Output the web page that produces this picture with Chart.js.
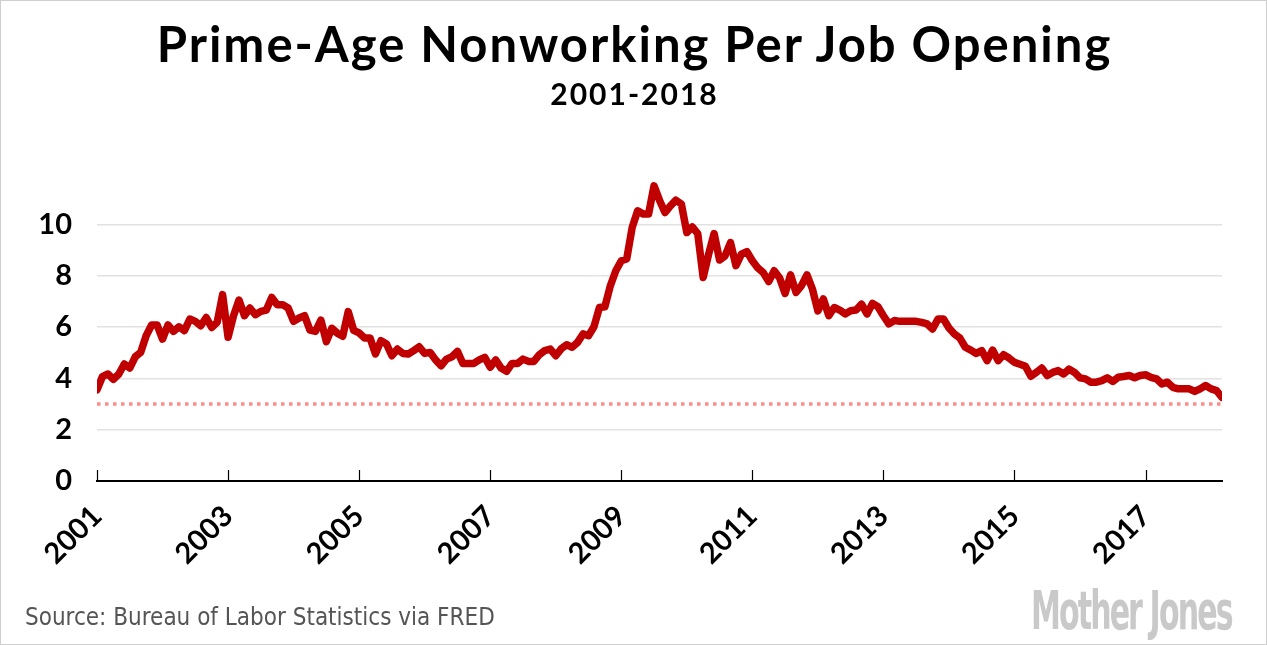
<!DOCTYPE html>
<html>
<head>
<meta charset="utf-8">
<script src="https://cdn.jsdelivr.net/npm/chart.js@4.4.0/dist/chart.umd.min.js"></script>
<style>
  html, body { margin: 0; padding: 0; background: #fff; }
  #wrap { position: relative; width: 1267px; height: 645px; box-sizing: border-box; border: 1px solid #cfcfcf; overflow: hidden; }
  #chart { position: absolute; left: -1px; top: -1px; }
  .txt { position: absolute; white-space: nowrap; }
  #title { left: 0; width: 1267px; top: 13px; text-align: center; font: 700 49px Lato, sans-serif; letter-spacing: 2px; color: #000; }
  #sub { left: 0; width: 1267px; top: 74px; text-align: center; font: 700 30px Lato, sans-serif; letter-spacing: 2px; color: #000; }
  #source { left: 24px; top: 602px; font: 24px "DejaVu Sans Condensed", "DejaVu Sans", sans-serif; color: #555; }
  #logo { right: 34px; top: 579px; font: 700 53px "DejaVu Sans Condensed", "DejaVu Sans", sans-serif; color: #c9c9c9; letter-spacing: -3px; transform: scaleX(0.63); transform-origin: right top; }
</style>
</head>
<body>
<div id="wrap">
  <canvas id="chart" width="1267" height="645"></canvas>
  <div class="txt" id="title">Prime-Age Nonworking Per Job Opening</div>
  <div class="txt" id="sub">2001-2018</div>
  <div class="txt" id="source">Source: Bureau of Labor Statistics via FRED</div>
  <div class="txt" id="logo">Mother Jones</div>
</div>
<script>
// ---- data (monthly, Jan 2001 - Mar 2018) ----
const startYear = 2001;
const values = [
  3.55, 4.07, 4.17, 3.96, 4.17, 4.56, 4.40, 4.84, 5.01, 5.66, 6.08, 6.08,
  5.53, 6.08, 5.83, 6.01, 5.86, 6.31, 6.22, 6.05, 6.37, 5.98, 6.18, 7.26,
  5.60, 6.44, 7.05, 6.44, 6.74, 6.48, 6.61, 6.66, 7.15, 6.87, 6.87, 6.74,
  6.22, 6.35, 6.44, 5.88, 5.83, 6.27, 5.43, 5.95, 5.76, 5.64, 6.60, 5.87,
  5.77, 5.57, 5.57, 4.95, 5.47, 5.34, 4.88, 5.14, 4.97, 4.95, 5.08, 5.23,
  4.97, 5.01, 4.72, 4.49, 4.75, 4.84, 5.05, 4.58, 4.58, 4.58, 4.72, 4.82,
  4.43, 4.72, 4.40, 4.27, 4.58, 4.58, 4.75, 4.66, 4.66, 4.92, 5.08, 5.14,
  4.88, 5.15, 5.31, 5.21, 5.40, 5.73, 5.66, 6.01, 6.76, 6.79, 7.61, 8.19,
  8.58, 8.65, 9.88, 10.53, 10.40, 10.40, 11.50, 10.94, 10.46, 10.72, 10.94, 10.79,
  9.68, 9.90, 9.64, 7.93, 8.84, 9.64, 8.61, 8.77, 9.29, 8.39, 8.84, 8.94,
  8.58, 8.30, 8.12, 7.77, 8.19, 7.91, 7.31, 8.03, 7.35, 7.61, 8.03, 7.48,
  6.63, 7.09, 6.44, 6.76, 6.66, 6.51, 6.63, 6.66, 6.89, 6.51, 6.92, 6.79,
  6.44, 6.12, 6.25, 6.22, 6.22, 6.22, 6.22, 6.18, 6.12, 5.92, 6.31, 6.31,
  5.96, 5.73, 5.57, 5.21, 5.10, 4.97, 5.08, 4.69, 5.10, 4.69, 4.92, 4.79,
  4.62, 4.55, 4.47, 4.08, 4.23, 4.40, 4.11, 4.23, 4.30, 4.17, 4.36, 4.23,
  4.02, 3.98, 3.85, 3.85, 3.91, 4.02, 3.88, 4.04, 4.07, 4.11, 4.02, 4.11,
  4.14, 4.04, 3.98, 3.78, 3.85, 3.65, 3.59, 3.59, 3.59, 3.49, 3.59, 3.72,
  3.59, 3.52, 3.26
];
const referenceLevel = 3;
const xTickYears = [2001, 2003, 2005, 2007, 2009, 2011, 2013, 2015, 2017];
const yTickValues = [0, 2, 4, 6, 8, 10];

// categories: fractional year of each month
const months = values.map((v, i) => startYear + i / 12);
const seriesPoints = values.map((v, i) => ({ x: months[i], y: v }));
const refPoints = [
  { x: months[0], y: referenceLevel },
  { x: months[months.length - 1], y: referenceLevel }
];

const tickFont = { family: 'Lato, sans-serif', weight: '700', size: 29 };

const innerTicks = {
  id: 'innerTicks',
  afterDatasetsDraw(chart) {
    const xs = chart.scales.x, ca = chart.chartArea, ctx = chart.ctx;
    ctx.save();
    ctx.strokeStyle = '#000';
    ctx.lineWidth = 1.2;
    xs.ticks.forEach(t => {
      const px = Math.round(xs.getPixelForValue(t.value)) + 0.5;
      ctx.beginPath();
      ctx.moveTo(px, ca.bottom);
      ctx.lineTo(px, ca.bottom - 11);
      ctx.stroke();
    });
    ctx.restore();
  }
};

new Chart(document.getElementById('chart'), {
  type: 'line',
  data: {
    datasets: [
      {
        data: refPoints,
        borderColor: 'rgb(250,140,140)',
        borderWidth: 3.5,
        borderDash: [3.5, 4.5],
        pointRadius: 0,
        fill: false,
        order: 2
      },
      {
        data: seriesPoints,
        borderColor: '#c00000',
        borderWidth: 7.5,
        pointRadius: 0,
        tension: 0,
        borderJoinStyle: 'round',
        borderCapStyle: 'round',
        fill: false,
        order: 1
      }
    ]
  },
  options: {
    responsive: false,
    animation: false,
    devicePixelRatio: 1,
    layout: { padding: { top: 173, right: 45, left: 0, bottom: 0 } },
    plugins: { legend: { display: false }, tooltip: { enabled: false }, title: { display: false } },
    scales: {
      x: {
        type: 'linear',
        min: months[0],
        max: months[months.length - 1],
        afterBuildTicks: s => { s.ticks = xTickYears.map(v => ({ value: v })); },
        afterFit: s => { s.height = 164; },
        grid: { drawOnChartArea: false, drawTicks: false },
        border: { display: true, color: '#000', width: 2 },
        ticks: {
          autoSkip: false,
          maxRotation: 45,
          minRotation: 45,
          padding: 18,
          color: '#000',
          font: tickFont,
          callback: v => String(v)
        }
      },
      y: {
        min: 0,
        max: 12,
        afterBuildTicks: s => { s.ticks = yTickValues.map(v => ({ value: v })); },
        afterFit: s => { s.width = 97; },
        grid: { color: '#e2e2e2', lineWidth: 1.5, drawTicks: false },
        border: { display: false },
        ticks: {
          padding: 25,
          color: '#000',
          font: tickFont,
          callback: v => String(v)
        }
      }
    }
  },
  plugins: [innerTicks]
});
</script>
</body>
</html>
